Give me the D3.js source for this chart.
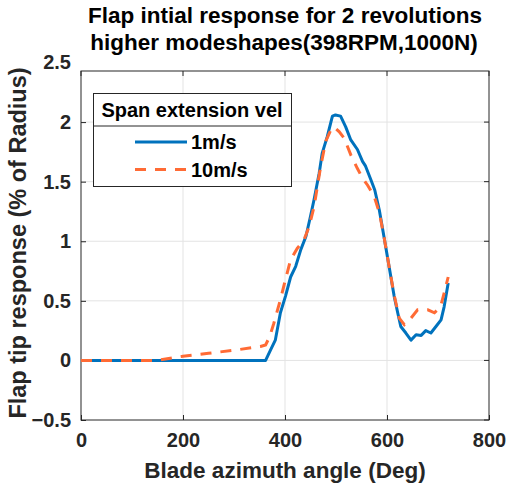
<!DOCTYPE html>
<html>
<head>
<meta charset="utf-8">
<script src="https://cdn.jsdelivr.net/npm/d3@7"></script>
<style>
  body { margin: 0; background: #fff; }
  svg { font-family: "Liberation Sans", Arial, sans-serif; font-weight: bold; }
</style>
</head>
<body>
<svg id="chart" width="508" height="491"></svg>
<script>
// azimuth (deg) / tip response (% of radius)
const azBlue = [0, 362, 372, 381, 391, 401, 411, 421, 431, 441, 450, 457, 467, 473, 483, 490, 493, 499, 509, 519, 529, 542, 552, 558, 568, 576, 585, 594, 604, 614, 621, 627, 637, 647, 657, 667, 676, 686, 696, 706, 712, 720];
const resBlue = [0, 0, 0.09, 0.17, 0.40, 0.54, 0.70, 0.79, 0.93, 1.04, 1.21, 1.35, 1.57, 1.74, 1.88, 2.00, 2.05, 2.06, 2.05, 1.96, 1.85, 1.77, 1.67, 1.63, 1.52, 1.43, 1.26, 1.04, 0.79, 0.54, 0.40, 0.285, 0.23, 0.17, 0.215, 0.21, 0.25, 0.23, 0.285, 0.34, 0.45, 0.65];

const azOrange = [0, 150, 200, 250, 300, 352, 362, 370, 378, 391, 401, 411, 424, 437, 447, 457, 470, 480, 490, 496, 506, 516, 529, 542, 552, 562, 575, 585, 594, 604, 614, 624, 634, 647, 660, 680, 693, 705, 712, 720];
const resOrange = [0, 0, 0.035, 0.06, 0.085, 0.117, 0.13, 0.2, 0.31, 0.51, 0.68, 0.845, 0.94, 1.01, 1.12, 1.29, 1.63, 1.84, 1.935, 1.96, 1.92, 1.865, 1.725, 1.61, 1.53, 1.47, 1.375, 1.24, 1.04, 0.79, 0.55, 0.355, 0.30, 0.355, 0.425, 0.425, 0.40, 0.45, 0.565, 0.70];

const xTicks = [0, 200, 400, 600, 800];
const yTicks = [-0.5, 0, 0.5, 1, 1.5, 2, 2.5];
const seriesNames = ["1m/s", "10m/s"];
const legendTitle = "Span extension vel";

const blue = "#0072BD", orange = "#FF6B35", ink = "#262626";
const axLeft = 81, axRight = 489, axTop = 71, axBottom = 420;

const svg = d3.select("#chart");
const x = d3.scaleLinear().domain([0, 800]).range([axLeft, axRight]);
const y = d3.scaleLinear().domain([-0.5, 2.5]).range([axBottom, 62.5]);

// grid
svg.append("g").selectAll("line").data(xTicks.slice(1, -1)).join("line")
  .attr("x1", d => x(d)).attr("x2", d => x(d)).attr("y1", axTop).attr("y2", axBottom)
  .attr("stroke", "#e3e3e3").attr("stroke-width", 1);
svg.append("g").selectAll("line").data(yTicks.filter(v => y(v) > axTop + 1 && y(v) < axBottom - 1)).join("line")
  .attr("x1", axLeft).attr("x2", axRight).attr("y1", d => y(d)).attr("y2", d => y(d))
  .attr("stroke", "#e3e3e3").attr("stroke-width", 1);

// axes
const xAxis = svg.append("g").attr("transform", `translate(0,${axBottom})`)
  .call(d3.axisBottom(x).tickValues(xTicks).tickSize(-5).tickPadding(14));
const yAxis = svg.append("g").attr("transform", `translate(${axLeft},0)`)
  .call(d3.axisLeft(y).tickValues(yTicks).tickSize(-5).tickPadding(10).tickFormat(d3.format("")));
[xAxis, yAxis].forEach(g => {
  g.select(".domain").remove();
  g.selectAll("line").attr("stroke", ink);
  g.selectAll("text").attr("fill", ink).style("font-size", "20px").style("font-weight", "bold")
    .style("font-family", "Liberation Sans, Arial, sans-serif");
});
xAxis.selectAll("text").attr("dy", "0.65em");
yAxis.selectAll(".tick").filter(d => y(d) < axTop).select("line").remove();
// right-side and top ticks
svg.append("g").selectAll("line").data(yTicks.filter(v => y(v) >= axTop)).join("line")
  .attr("x1", axRight).attr("x2", axRight - 5).attr("y1", d => y(d)).attr("y2", d => y(d))
  .attr("stroke", ink);
svg.append("g").selectAll("line").data(xTicks).join("line")
  .attr("x1", d => x(d)).attr("x2", d => x(d)).attr("y1", axTop).attr("y2", axTop + 5)
  .attr("stroke", ink);

svg.append("rect").attr("x", axLeft).attr("y", axTop).attr("width", axRight - axLeft).attr("height", axBottom - axTop)
  .attr("fill", "none").attr("stroke", ink).attr("stroke-width", 1);

// lines
const line = d3.line().x(d => x(d[0])).y(d => y(d[1]));
svg.append("path").datum(d3.zip(azBlue, resBlue)).attr("d", line)
  .attr("fill", "none").attr("stroke", blue).attr("stroke-width", 3).attr("stroke-linejoin", "round");
svg.append("path").datum(d3.zip(azOrange, resOrange)).attr("d", line)
  .attr("fill", "none").attr("stroke", orange).attr("stroke-width", 3).attr("stroke-dasharray", "11,9");

// titles
svg.append("text").attr("x", 285).attr("y", 23).attr("text-anchor", "middle")
  .attr("fill", "#000").style("font-size", "22.5px").text("Flap intial response for 2 revolutions");
svg.append("text").attr("x", 284).attr("y", 50).attr("text-anchor", "middle")
  .attr("fill", "#000").style("font-size", "22.5px").text("higher modeshapes(398RPM,1000N)");
svg.append("text").attr("x", 285).attr("y", 478).attr("text-anchor", "middle")
  .attr("fill", ink).style("font-size", "22.5px").text("Blade azimuth angle (Deg)");
svg.append("text").attr("transform", `translate(26,243) rotate(-90)`)
  .attr("text-anchor", "middle").attr("fill", ink).style("font-size", "23.5px")
  .text("Flap tip response (% of Radius)");

// legend
const lg = svg.append("g");
lg.append("rect").attr("x", 93.5).attr("y", 93.5).attr("width", 198).attr("height", 93)
  .attr("fill", "#fff").attr("stroke", ink).attr("stroke-width", 1);
lg.append("line").attr("x1", 93.5).attr("x2", 291.5).attr("y1", 126).attr("y2", 126)
  .attr("stroke", ink).attr("stroke-width", 1);
lg.append("text").attr("x", 192).attr("y", 117).attr("text-anchor", "middle")
  .attr("fill", "#000").style("font-size", "20px").text(legendTitle);
seriesNames.forEach((name, i) => {
  const yy = 142 + i * 27.5;
  lg.append("line").attr("x1", 135).attr("x2", 187).attr("y1", yy).attr("y2", yy)
    .attr("stroke", i ? orange : blue).attr("stroke-width", 3)
    .attr("stroke-dasharray", i ? "11,9" : null);
  lg.append("text").attr("x", 191).attr("y", yy + 7).attr("fill", "#000")
    .style("font-size", "20px").text(name);
});
</script>
</body>
</html>
